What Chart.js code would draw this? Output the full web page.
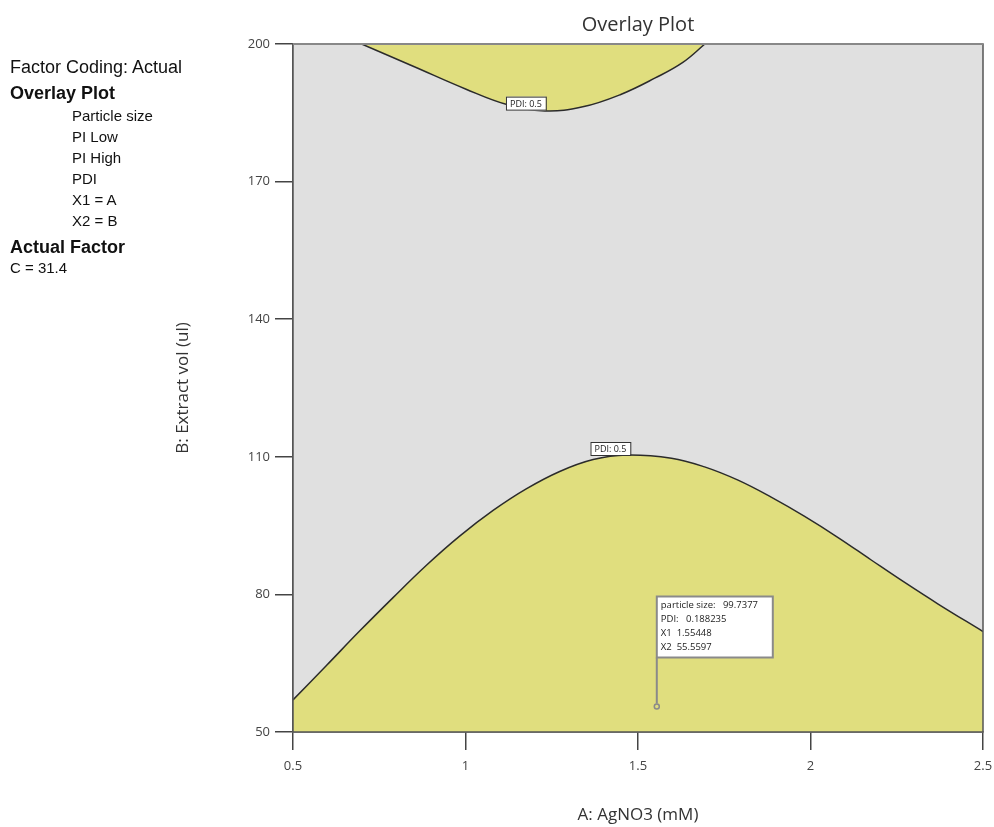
<!DOCTYPE html>
<html>
<head>
<meta charset="utf-8">
<script src="https://cdn.jsdelivr.net/npm/chart.js@4.4.1/dist/chart.umd.min.js"></script>
<style>
  body { margin: 0; background: #fff; }
  #wrap { position: relative; width: 994px; height: 827px; }
  #info { position: absolute; left: 0; top: 0; font-family: "Liberation Sans", Arial, sans-serif; color: #111; }
  #info div { position: absolute; white-space: nowrap; line-height: 1; }
  .big { font-size: 18px; left: 10px; }
  .bold { font-weight: bold; }
  .sub { font-size: 15px; left: 72px; }
</style>
</head>
<body>
<div id="wrap">
  <canvas id="overlay" width="994" height="827"></canvas>
  <div id="info">
    <div class="big" style="top:58px">Factor Coding: Actual</div>
    <div class="big bold" style="top:84px">Overlay Plot</div>
    <div class="sub" style="top:108px">Particle size</div>
    <div class="sub" style="top:129px">PI Low</div>
    <div class="sub" style="top:150px">PI High</div>
    <div class="sub" style="top:171px">PDI</div>
    <div class="sub" style="top:192px">X1 = A</div>
    <div class="sub" style="top:213px">X2 = B</div>
    <div class="big bold" style="top:238px">Actual Factor</div>
    <div class="sub" style="top:260px; left:10px">C = 31.4</div>
  </div>
</div>
<script>
// lower PDI = 0.5 contour (region below it is the design space)
const lowX = [0.5, 0.597, 0.693, 0.79, 0.886, 0.983, 1.08, 1.176, 1.273, 1.37, 1.466,
              1.597, 1.693, 1.79, 1.886, 1.983, 2.08, 2.176, 2.273, 2.37, 2.5];
const lowY = [57.0, 64.5, 72.0, 79.3, 86.3, 92.7, 98.3, 103.0, 106.8, 109.4, 110.4,
              109.7, 107.8, 104.9, 101.2, 97.0, 92.4, 87.5, 82.6, 77.9, 71.9];

// upper PDI = 0.5 contour (region above it)
const highX = [0.699, 0.85, 1.0, 1.12, 1.23, 1.34, 1.45, 1.55, 1.63, 1.694];
const highY = [200, 195.1, 190.2, 186.8, 185.4, 186.3, 189.0, 192.6, 196.0, 200];

// contour labels
const labelText = ['PDI: 0.5', 'PDI: 0.5'];
const labelX = [1.175, 1.42];
const labelY = [187.0, 111.7];

// flag
const flagX = 1.55448;
const flagY = 55.5597;
const flagLines = ['particle size:   99.7377', 'PDI:   0.188235', 'X1  1.55448', 'X2  55.5597'];

const xTicks = [0.5, 1, 1.5, 2, 2.5];
const yTicks = [50, 80, 110, 140, 170, 200];

const yellow = '#e0de7e';
const gray = '#e0e0e0';

const toPoints = (xs, ys) => xs.map((x, i) => ({ x: x, y: ys[i] }));

const plotBg = {
    id: 'plotBg',
    beforeDatasetsDraw(chart) {
        const a = chart.chartArea;
        const c = chart.ctx;
        c.save();
        c.fillStyle = gray;
        c.fillRect(a.left, a.top, a.right - a.left, a.bottom - a.top);
        c.restore();
    },
    afterDatasetsDraw(chart) {
        const a = chart.chartArea;
        const c = chart.ctx;
        const sx = chart.scales.x, sy = chart.scales.y;
        c.save();
        // contour labels
        c.font = '9px "Open Sans", sans-serif';
        c.textAlign = 'center';
        c.textBaseline = 'middle';
        labelText.forEach((t, i) => {
            const px = sx.getPixelForValue(labelX[i]);
            const py = sy.getPixelForValue(labelY[i]);
            const w = c.measureText(t).width + 8;
            c.fillStyle = '#fff';
            c.fillRect(px - w / 2, py - 7, w, 14);
            c.strokeStyle = '#333';
            c.lineWidth = 1;
            c.strokeRect(px - w / 2 + 0.5, py - 6.5, w, 13);
            c.fillStyle = '#222';
            c.fillText(t, px, py + 0.5);
        });

        // flag
        const fx = sx.getPixelForValue(flagX);
        const fy = sy.getPixelForValue(flagY);
        const boxTop = fy - 110, boxH = 61, boxW = 116;
        c.strokeStyle = '#8a8a8a';
        c.lineWidth = 2;
        c.beginPath();
        c.moveTo(fx, fy - 3);
        c.lineTo(fx, boxTop + boxH);
        c.stroke();
        c.lineWidth = 1.5;
        c.beginPath();
        c.arc(fx, fy, 2.5, 0, Math.PI * 2);
        c.stroke();
        c.fillStyle = '#fff';
        c.fillRect(fx, boxTop, boxW, boxH);
        c.lineWidth = 2;
        c.strokeRect(fx, boxTop, boxW, boxH);
        c.fillStyle = '#222';
        c.font = '9.5px "Open Sans", sans-serif';
        c.textAlign = 'left';
        flagLines.forEach((t, i) => c.fillText(t, fx + 4, boxTop + 9 + i * 14));

        // frame
        c.strokeStyle = '#555';
        c.lineWidth = 1.5;
        c.strokeRect(a.left, a.top, a.right - a.left, a.bottom - a.top);
        c.strokeStyle = '#888';
        c.lineWidth = 2;
        c.beginPath();
        c.moveTo(a.left, a.top);
        c.lineTo(a.right, a.top);
        c.stroke();
        c.restore();
    }
};

new Chart(document.getElementById('overlay'), {
    type: 'line',
    data: {
        datasets: [{
            data: toPoints(lowX, lowY),
            borderColor: '#2b2b2b',
            borderWidth: 1.5,
            backgroundColor: yellow,
            fill: 'start',
            pointRadius: 0,
            tension: 0.4
        }, {
            data: toPoints(highX, highY),
            borderColor: '#2b2b2b',
            borderWidth: 1.5,
            backgroundColor: yellow,
            fill: 'end',
            pointRadius: 0,
            tension: 0.4
        }]
    },
    options: {
        responsive: false,
        animation: false,
        layout: { padding: { left: 0, right: 11, top: 0, bottom: 0 } },
        plugins: {
            legend: { display: false },
            tooltip: { enabled: false },
            title: {
                display: true,
                text: 'Overlay Plot',
                fullSize: false,
                color: '#333',
                font: { family: '"Open Sans", sans-serif', size: 20, weight: 'normal' },
                padding: { top: 13, bottom: 7 }
            }
        },
        scales: {
            x: {
                type: 'linear',
                min: 0.5,
                max: 2.5,
                afterBuildTicks: (s) => { s.ticks = xTicks.map(v => ({ value: v })); },
                afterFit: (s) => { s.height = 95; s.paddingLeft = 0; s.paddingRight = 0; },
                grid: { drawOnChartArea: false, tickLength: 18, color: '#444', lineWidth: 1.5 },
                border: { color: '#555', width: 1.5 },
                ticks: {
                    padding: 8,
                    color: '#444',
                    font: { family: '"Open Sans", sans-serif', size: 13 },
                    callback: (v) => String(v)
                },
                title: {
                    display: true,
                    text: 'A: AgNO3 (mM)',
                    color: '#333',
                    font: { family: '"Open Sans", sans-serif', size: 17 },
                    padding: { top: 0, bottom: 2 }
                }
            },
            y: {
                type: 'linear',
                min: 50,
                max: 200,
                afterBuildTicks: (s) => { s.ticks = yTicks.map(v => ({ value: v })); },
                afterFit: (s) => { s.width = 293; s.paddingTop = 0; s.paddingBottom = 0; },
                grid: { drawOnChartArea: false, tickLength: 18, color: '#444', lineWidth: 1.5 },
                border: { color: '#555', width: 1.5 },
                ticks: {
                    padding: 5,
                    color: '#444',
                    font: { family: '"Open Sans", sans-serif', size: 13 }
                },
                title: {
                    display: true,
                    text: 'B: Extract vol (ul)',
                    color: '#333',
                    font: { family: '"Open Sans", sans-serif', size: 17 },
                    padding: { top: 173, bottom: 0 }
                }
            }
        }
    },
    plugins: [plotBg]
});
</script>
</body>
</html>
